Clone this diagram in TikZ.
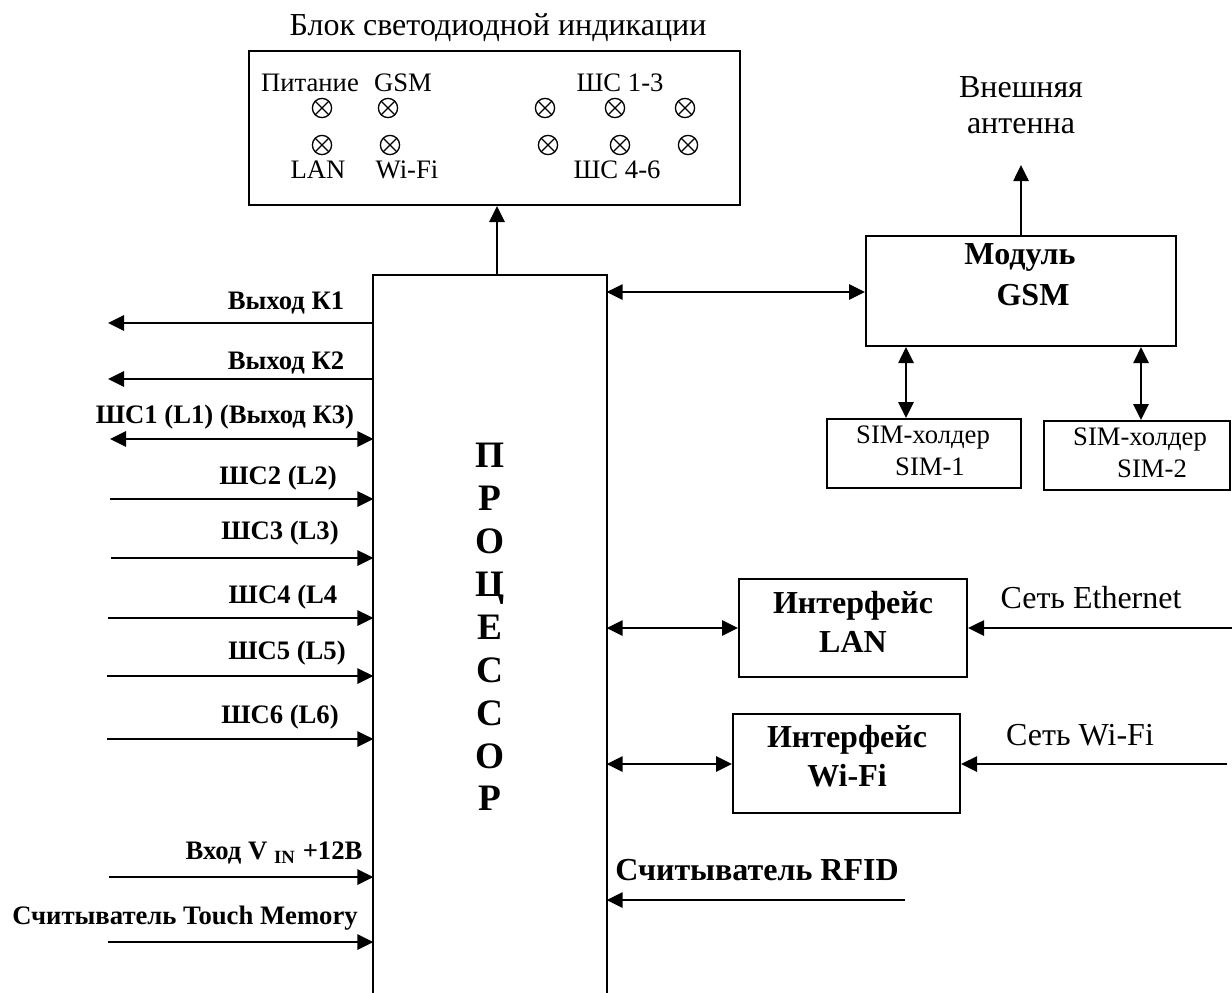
\documentclass[tikz,border=0pt]{standalone}
\usepackage{fontspec}
\setmainfont{Liberation Serif}
\usetikzlibrary{arrows.meta,fit}
\begin{document}
\begin{tikzpicture}[x=0.375pt,y=-0.375pt,
  box/.style={draw, line width=0.75pt, inner sep=0pt},
  tip/.tip={Triangle[length=6pt,width=5.6pt]},
  arr/.style={line width=1.1pt, -tip},
  darr/.style={line width=1.1pt, tip-tip},
  lbl/.style={font=\fontsize{10pt}{12pt}\selectfont\bfseries, inner sep=0pt},
  small/.style={font=\fontsize{10pt}{12pt}\selectfont, inner sep=0pt, align=center},
  txt/.style={font=\fontsize{12pt}{14pt}\selectfont, inner sep=0pt, align=center},
  btxt/.style={font=\fontsize{12pt}{14.6pt}\selectfont\bfseries, inner sep=0pt, align=center},
  led/.style={circle, draw, line width=0.5pt, minimum size=7.2pt, inner sep=0pt,
    path picture={\draw[line width=0.5pt]
      (path picture bounding box.north west) -- (path picture bounding box.south east)
      (path picture bounding box.north east) -- (path picture bounding box.south west);}}
]
\useasboundingbox (0,0) rectangle (1232,992);

% ---------- LED block ----------
\node[txt] (ledtitle) at (498,28) {Блок светодиодной индикации};
\node[box, fit={(249,51) (740,205)}] (ledbox) {};
\node[small] (pit) at (310,83) {Питание};
\node[small] (gsml) at (403,83) {GSM};
\node[small] (sc13) at (620,83) {ШС 1-3};
\node[small] (lanl) at (318,170) {LAN};
\node[small] (wifil) at (407,170) {Wi-Fi};
\node[small] (sc46) at (617,170) {ШС 4-6};
\node[led] (o1) at (322,108) {};
\node[led] (o2) at (388,108) {};
\node[led] (o3) at (545,108) {};
\node[led] (o4) at (615,108) {};
\node[led] (o5) at (685,108) {};
\node[led] (o6) at (322,145) {};
\node[led] (o7) at (390,145) {};
\node[led] (o8) at (548,145) {};
\node[led] (o9) at (620,145) {};
\node[led] (o10) at (688,145) {};

% ---------- Processor ----------
\node[inner sep=0pt, fit={(374,276) (606,1000)}] (proc) {};
\draw[line width=0.75pt] (proc.south west) -- (proc.north west) -- (proc.north east) -- (proc.south east);
\node[font=\fontsize{14pt}{16.1pt}\selectfont\bfseries, align=center, inner sep=0pt] (proctxt) at (490,627)
  {П\\Р\\О\\Ц\\Е\\С\\С\\О\\Р};
\coordinate (up) at (497,0);
\draw[arr] (proc.north -| up) -- (ledbox.south -| up);

% ---------- GSM ----------
\node[box, fit={(866,236) (1176,346)}] (gsm) {};
\node[btxt] (gsm1) at (1020,257) {Модуль};
\node[btxt] (gsm2) at (1033,295) {GSM};
\node[txt, font=\fontsize{12pt}{13.5pt}\selectfont] (ant) at (1021,105) {Внешняя\\антенна};
\coordinate (antend) at (1021,165);
\draw[arr] (gsm.north -| antend) -- (antend);
\coordinate (g) at (0,292);
\draw[darr] (proc.east |- g) -- (gsm.west |- g);

\node[box, fit={(827,419) (1021,488)}] (sim1) {};
\node[box, fit={(1044,421) (1230,490)}] (sim2) {};
\node[small] (sim1a) at (923,438) {SIM-холдер};
\node[small] (sim1b) at (930,467) {SIM-1};
\node[small] (sim2a) at (1140,440) {SIM-холдер};
\node[small] (sim2b) at (1152,469) {SIM-2};
\coordinate (s1) at (906,0);
\coordinate (s2) at (1141,0);
\draw[darr] (gsm.south -| s1) -- (sim1.north -| s1);
\draw[darr] (gsm.south -| s2) -- (sim2.north -| s2);

% ---------- LAN / Wi-Fi ----------
\node[box, fit={(739,579) (967,677)}] (lan) {};
\node[btxt] (lantxt) at (853,622) {Интерфейс\\LAN};
\node[box, fit={(733,714) (960,813)}] (wifi) {};
\node[btxt] (wifitxt) at (847,756) {Интерфейс\\Wi-Fi};
\node[txt] (eth) at (1091,598) {Сеть Ethernet};
\node[txt] (wnet) at (1080,735) {Сеть Wi-Fi};
\coordinate (l) at (0,628);
\coordinate (ethend) at (1232,628);
\draw[darr] (proc.east |- l) -- (lan.west |- l);
\draw[arr] (ethend) -- (lan.east |- ethend);
\coordinate (w) at (0,764);
\coordinate (wend) at (1227,764);
\draw[darr] (proc.east |- w) -- (wifi.west |- w);
\draw[arr] (wend) -- (wifi.east |- wend);

% ---------- RFID ----------
\node[btxt] (rfid) at (757,870) {Считыватель RFID};
\coordinate (rf) at (905,900);
\draw[arr] (rf) -- (proc.east |- rf);

% ---------- left side ----------
\node[lbl] (lk1) at (286,303) {Выход К1};
\coordinate (k1) at (108,323);
\draw[arr] (proc.west |- k1) -- (k1);
\node[lbl] (lk2) at (286,363) {Выход К2};
\coordinate (k2) at (108,379);
\draw[arr] (proc.west |- k2) -- (k2);
\node[lbl] (ls1) at (225,417) {ШС1 (L1) (Выход К3)};
\coordinate (c1) at (110,439);
\draw[darr] (c1) -- (proc.west |- c1);
\node[lbl] (ls2) at (278,478) {ШС2 (L2)};
\coordinate (c2) at (110,499);
\draw[arr] (c2) -- (proc.west |- c2);
\node[lbl] (ls3) at (280,533) {ШС3 (L3)};
\coordinate (c3) at (111,558);
\draw[arr] (c3) -- (proc.west |- c3);
\node[lbl] (ls4) at (283,597) {ШС4 (L4};
\coordinate (c4) at (108,618);
\draw[arr] (c4) -- (proc.west |- c4);
\node[lbl] (ls5) at (287,653) {ШС5 (L5)};
\coordinate (c5) at (107,676);
\draw[arr] (c5) -- (proc.west |- c5);
\node[lbl] (ls6) at (280,717) {ШС6 (L6)};
\coordinate (c6) at (107,739);
\draw[arr] (c6) -- (proc.west |- c6);
\node[lbl] (lvin) at (274,853) {Вход V \textsubscript{IN} +12В};
\coordinate (vin) at (109,877);
\draw[arr] (vin) -- (proc.west |- vin);
\node[lbl] (ltm) at (185,918) {Считыватель Touch Memory};
\coordinate (tm) at (108,942);
\draw[arr] (tm) -- (proc.west |- tm);
\end{tikzpicture}
\end{document}
